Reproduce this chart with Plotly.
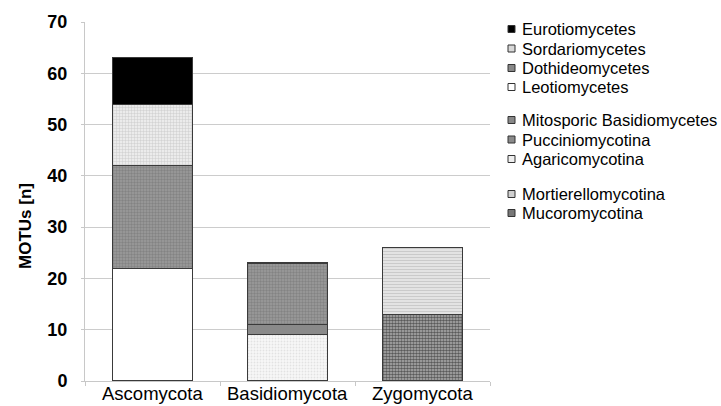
import plotly.graph_objects as go

categories = ["Ascomycota", "Basidiomycota", "Zygomycota"]

series_names = [
    "Leotiomycetes", "Dothideomycetes", "Sordariomycetes", "Eurotiomycetes",
    "Agaricomycotina", "Pucciniomycotina", "Mitosporic Basidiomycetes",
    "Mucoromycotina", "Mortierellomycotina",
]
leotiomycetes = [22, 0, 0]
dothideomycetes = [20, 0, 0]
sordariomycetes = [12, 0, 0]
eurotiomycetes = [9, 0, 0]
agaricomycotina = [0, 9, 0]
pucciniomycotina = [0, 2, 0]
mitosporic = [0, 12, 0]
mucoromycotina = [0, 0, 13]
mortierellomycotina = [0, 0, 13]

values = [leotiomycetes, dothideomycetes, sordariomycetes, eurotiomycetes,
          agaricomycotina, pucciniomycotina, mitosporic,
          mucoromycotina, mortierellomycotina]

# legend order (top to bottom)
legend_order = [
    "Eurotiomycetes", "Sordariomycetes", "Dothideomycetes", "Leotiomycetes",
    "Mitosporic Basidiomycetes", "Pucciniomycotina", "Agaricomycotina",
    "Mortierellomycotina", "Mucoromycotina",
]

styles = {
    "Leotiomycetes": dict(color="white"),
    "Dothideomycetes": dict(color="#8c8c8c", pattern=dict(shape=".", fgcolor="#6a6a6a", bgcolor="#9c9c9c", size=3, solidity=0.5)),
    "Sordariomycetes": dict(color="#e0e0e0", pattern=dict(shape=".", fgcolor="#b4b4b4", bgcolor="#f2f2f2", size=3, solidity=0.5)),
    "Eurotiomycetes": dict(color="black"),
    "Agaricomycotina": dict(color="#f0f0f0", pattern=dict(shape=".", fgcolor="#cdcdcd", bgcolor="#f7f7f7", size=3, solidity=0.3)),
    "Pucciniomycotina": dict(color="#8a8a8a"),
    "Mitosporic Basidiomycetes": dict(color="#8c8c8c", pattern=dict(shape=".", fgcolor="#6a6a6a", bgcolor="#9c9c9c", size=3, solidity=0.5)),
    "Mucoromycotina": dict(color="#555555", pattern=dict(shape=".", fgcolor="#000000", bgcolor="#b4b4b4", size=3, solidity=0.6)),
    "Mortierellomycotina": dict(color="#cccccc", pattern=dict(shape="-", fgcolor="#a8a8a8", bgcolor="#ececec", size=3, solidity=0.5)),
}
legend_swatch = {
    "Leotiomycetes": "white", "Dothideomycetes": "#888888", "Sordariomycetes": "#d8d8d8",
    "Eurotiomycetes": "black", "Agaricomycotina": "#eeeeee", "Pucciniomycotina": "#8a8a8a",
    "Mitosporic Basidiomycetes": "#888888", "Mucoromycotina": "#777777",
    "Mortierellomycotina": "#cfcfcf",
}

W, H = 721, 406
L, R, T, B = 85, 490, 22, 381


def px_x(px):
    return (px - L) / (R - L)


def px_y(py):
    return (B - py) / (B - T)


fig = go.Figure()
for name, vals in zip(series_names, values):
    marker = dict(line=dict(color="#3a3a3a", width=1.1))
    marker.update(styles[name])
    fig.add_trace(go.Bar(
        x=categories, y=vals, name=name, marker=marker, width=0.593,
        showlegend=False,
    ))

# category labels placed on the category axis
for cat in categories:
    fig.add_annotation(
        x=cat, xref="x", y=px_y(393), yref="paper",
        text=cat, showarrow=False, xanchor="center", yanchor="middle",
        font=dict(size=18.5, color="black"),
    )

# custom legend (text annotations + swatches)
entry_y = [29, 48.5, 68, 87, 120, 139.5, 159, 194, 213]
for name, py in zip(legend_order, entry_y):
    fig.add_annotation(
        x=px_x(520), y=px_y(py), xref="paper", yref="paper",
        text=name, showarrow=False, xanchor="left", yanchor="middle",
        font=dict(size=16.5, color="black"),
    )
    fig.add_shape(
        type="rect", xref="paper", yref="paper",
        x0=px_x(508), x1=px_x(515), y0=px_y(py + 3.5), y1=px_y(py - 3.5),
        fillcolor=legend_swatch[name], line=dict(color="#333333", width=1),
    )

fig.add_annotation(
    x=px_x(25), y=px_y(226), xref="paper", yref="paper",
    text="<b>MOTUs [n]</b>", showarrow=False, textangle=-90,
    xanchor="center", yanchor="middle", font=dict(size=17, color="black"),
)

fig.update_layout(
    barmode="stack",
    width=W, height=H,
    margin=dict(l=L, r=W - R, t=T, b=H - B, autoexpand=False),
    paper_bgcolor="white", plot_bgcolor="white",
    font=dict(family="Liberation Sans, Arial, sans-serif", color="black"),
    showlegend=False,
    yaxis=dict(
        range=[0, 70], dtick=10, showgrid=True, gridcolor="#cccccc", gridwidth=1,
        showline=True, linecolor="#c8c8c8", zeroline=False,
        ticks="outside", ticklen=3, tickcolor="#c8c8c8",
        tickfont=dict(size=18, weight="bold"),
        ticklabelstandoff=10, automargin=False,
    ),
    xaxis=dict(
        showline=True, linecolor="#c8c8c8", showgrid=False,
        showticklabels=False, tickson="boundaries",
        ticks="outside", ticklen=4, tickcolor="#c8c8c8",
        automargin=False,
    ),
)

fig.write_html("out.html", config={"displayModeBar": False},
               post_script="document.body.style.margin='0';")
